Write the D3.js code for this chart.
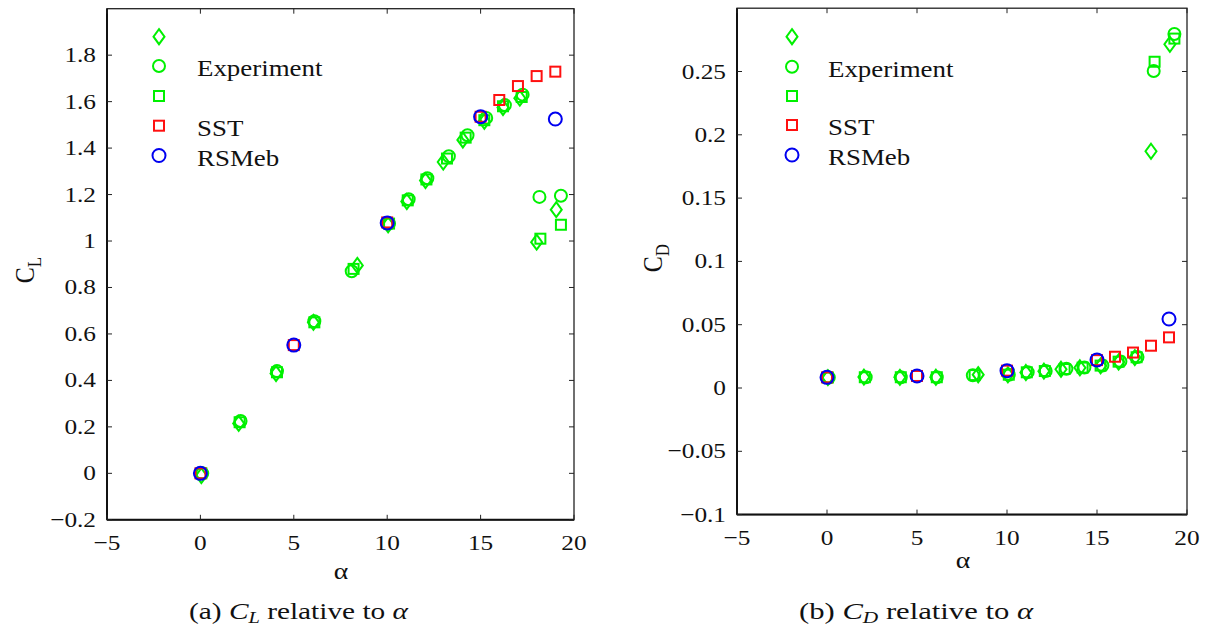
<!DOCTYPE html>
<html><head><meta charset="utf-8">
<script src="https://cdn.jsdelivr.net/npm/d3@7"></script>
<style>
html,body{margin:0;padding:0;background:#fff;}
text{font-family:"Liberation Serif","Times New Roman",serif;fill:#111;}
</style></head>
<body>
<svg id="fig" width="1207" height="630"></svg>
<script>
// ---------- data ----------
const xTicks = [-5, 0, 5, 10, 15, 20];
const clTicks = [-0.2, 0, 0.2, 0.4, 0.6, 0.8, 1, 1.2, 1.4, 1.6, 1.8];
const cdTicks = [-0.1, -0.05, 0, 0.05, 0.1, 0.15, 0.2, 0.25];
const legendLabels = ["", "Experiment", "", "SST", "RSMeb"];

const alphaExpDiamond = [0.05, 2.05, 4.05, 6.05, 8.4, 10.05, 11.05, 12.05, 13.0, 14.05, 15.2, 16.2, 17.1, 18.0, 19.05];
const clExpDiamond    = [-0.01, 0.215, 0.43, 0.65, 0.895, 1.07, 1.17, 1.26, 1.34, 1.435, 1.515, 1.575, 1.615, 0.995, 1.135];
const cdExpDiamond    = [0.0082, 0.0086, 0.0084, 0.0085, 0.0105, 0.0104, 0.0122, 0.0133, 0.0148, 0.0160, 0.0175, 0.0205, 0.0240, 0.187, 0.2715];

const alphaExpCircle  = [0.1, 2.15, 4.1, 6.1, 8.1, 10.1, 11.15, 12.15, 13.3, 14.3, 15.3, 16.3, 17.25, 18.15, 19.3];
const clExpCircle     = [0.0, 0.225, 0.44, 0.655, 0.87, 1.075, 1.18, 1.27, 1.365, 1.455, 1.53, 1.585, 1.63, 1.19, 1.195];
const cdExpCircle     = [0.0083, 0.0085, 0.0085, 0.0085, 0.0100, 0.0105, 0.0125, 0.0134, 0.0152, 0.0162, 0.0178, 0.0210, 0.0245, 0.2504, 0.2796];

const alphaExpSquare  = [0.05, 2.1, 4.1, 6.1, 8.2, 10.1, 11.1, 12.1, 13.2, 14.2, 15.2, 16.2, 17.2, 18.2, 19.3];
const clExpSquare     = [0.0, 0.22, 0.435, 0.65, 0.88, 1.075, 1.175, 1.265, 1.355, 1.445, 1.52, 1.58, 1.62, 1.01, 1.07];
const cdExpSquare     = [0.0083, 0.0085, 0.0085, 0.0085, 0.0102, 0.0105, 0.0124, 0.0134, 0.0150, 0.0161, 0.0177, 0.0208, 0.0243, 0.2577, 0.2760];

const alphaSST = [0, 5, 10, 15, 16, 17, 18, 19];
const clSST    = [0.0, 0.552, 1.08, 1.535, 1.607, 1.667, 1.71, 1.729];
const cdSST    = [0.0084, 0.0095, 0.0137, 0.022, 0.0247, 0.028, 0.0334, 0.040];

const alphaRSM = [0, 5, 10, 15, 19];
const clRSM    = [0.0, 0.552, 1.078, 1.535, 1.525];
const cdRSM    = [0.0084, 0.0095, 0.0137, 0.0222, 0.0545];

// ---------- helpers ----------
const GREEN = "#00f000", RED = "#ff1010", BLUE = "#0000f0";
const svg = d3.select("#fig");
const TXS = 1.15; // horizontal text stretch of the reference

function stext(g, x, y, str, opts) {
  opts = opts || {};
  const t = g.append("text")
    .attr("transform", `translate(${x},${y}) scale(${opts.sx || TXS},1)`)
    .attr("font-size", opts.size || 22)
    .attr("text-anchor", opts.anchor || "middle")
    .text(str);
  return t;
}
function fmt(v) {
  let s = String(+v.toFixed(3));
  if (s === "0") return "0";
  return s.replace("-", "\u2212");
}
function marker(g, type, color, x, y) {
  if (type === "circle") {
    g.append("circle").attr("cx", x).attr("cy", y).attr("r", color === BLUE ? 6.5 : 6)
      .attr("fill", "none").attr("stroke", color).attr("stroke-width", 2);
  } else if (type === "square") {
    g.append("rect").attr("x", x - 5).attr("y", y - 5).attr("width", 10).attr("height", 10)
      .attr("fill", "none").attr("stroke", color).attr("stroke-width", 2);
  } else {
    g.append("path").attr("d", `M${x},${y-7.5}L${x+5.5},${y}L${x},${y+7.5}L${x-5.5},${y}Z`)
      .attr("fill", "none").attr("stroke", color).attr("stroke-width", 2);
  }
}

function panel(cfg) {
  const g = svg.append("g");
  const x = d3.scaleLinear().domain([-5, 20]).range([cfg.x0, cfg.x1]);
  const y = d3.scaleLinear().domain(cfg.yDomain).range([cfg.y0, cfg.y1]);

  const series = [
    {type: "diamond", color: GREEN, a: alphaExpDiamond, v: cfg.vals[0]},
    {type: "circle",  color: GREEN, a: alphaExpCircle,  v: cfg.vals[1]},
    {type: "square",  color: GREEN, a: alphaExpSquare,  v: cfg.vals[2]},
    {type: "square",  color: RED,   a: alphaSST,        v: cfg.vals[3]},
    {type: "circle",  color: BLUE,  a: alphaRSM,        v: cfg.vals[4]}
  ];
  const pg = g.append("g");
  series.forEach(s => s.a.forEach((a, i) => marker(pg, s.type, s.color, x(a), y(s.v[i]))));

  // frame
  const fx0 = cfg.x0, fx1 = cfg.x1, fy0 = cfg.y0, fy1 = cfg.y1;
  g.append("rect").attr("x", fx0).attr("y", fy1).attr("width", fx1 - fx0).attr("height", fy0 - fy1)
    .attr("fill", "none").attr("stroke", "#222").attr("stroke-width", 1.3);
  g.append("line").attr("x1", fx0).attr("x2", fx1).attr("y1", fy0).attr("y2", fy0).attr("stroke", "#111").attr("stroke-width", 2);
  g.append("line").attr("x1", fx0).attr("x2", fx0).attr("y1", fy0).attr("y2", fy1).attr("stroke", "#111").attr("stroke-width", 2);

  // axes ticks (inward, all four sides)
  const TL = 5;
  xTicks.forEach(t => {
    const px = x(t);
    g.append("line").attr("x1", px).attr("x2", px).attr("y1", fy0).attr("y2", fy0 - TL).attr("stroke", "#222");
    g.append("line").attr("x1", px).attr("x2", px).attr("y1", fy1).attr("y2", fy1 + TL).attr("stroke", "#222");
    stext(g, px, cfg.xLabelY, fmt(t), {size: 22});
  });
  cfg.yTicks.forEach(t => {
    const py = y(t);
    g.append("line").attr("x1", fx0).attr("x2", fx0 + TL).attr("y1", py).attr("y2", py).attr("stroke", "#222");
    g.append("line").attr("x1", fx1).attr("x2", fx1 - TL).attr("y1", py).attr("y2", py).attr("stroke", "#222");
    stext(g, fx0 - 11, py + 7, fmt(t), {size: 22, anchor: "end"});
  });

  // axis labels
  stext(g, cfg.alphaX, cfg.alphaY, "\u03b1", {size: 24});
  const yl = g.append("text")
    .attr("transform", `translate(${cfg.ylabX},${cfg.ylabY}) rotate(-90) scale(1,${TXS})`)
    .attr("font-size", 24).attr("text-anchor", "middle");
  yl.append("tspan").text("C");
  yl.append("tspan").attr("font-size", 17).attr("dy", 6).text(cfg.sub);

  // legend
  const lt = ["diamond", "circle", "square", "square", "circle"];
  const lc = [GREEN, GREEN, GREEN, RED, BLUE];
  cfg.legY.forEach((ly, i) => {
    marker(g, lt[i], lc[i], cfg.legX, ly);
    if (legendLabels[i]) stext(g, cfg.legTextX, ly + 10, legendLabels[i], {size: 23, anchor: "start", sx: 1.17});
  });

  // caption
  const cap = g.append("text").attr("x", cfg.capX).attr("y", 619).attr("font-size", 23)
    .attr("textLength", cfg.capW).attr("lengthAdjust", "spacingAndGlyphs");
  cap.append("tspan").text(cfg.capPrefix + " ");
  cap.append("tspan").attr("font-style", "italic").text("C");
  cap.append("tspan").attr("font-style", "italic").attr("font-size", 16).attr("dy", 4).text(cfg.sub);
  cap.append("tspan").attr("dy", -4).text(" relative to ");
  cap.append("tspan").attr("font-style", "italic").text("\u03b1");
}

panel({
  x0: 107, x1: 574, y0: 519.8, y1: 8.7, yDomain: [-0.2, 2.0], yTicks: clTicks,
  vals: [clExpDiamond, clExpCircle, clExpSquare, clSST, clRSM],
  xLabelY: 550, alphaX: 341, alphaY: 579, ylabX: 34, ylabY: 270, sub: "L",
  legX: 159, legY: [36.7, 66, 96, 125.7, 155.5], legTextX: 197,
  capX: 189, capW: 219, capPrefix: "(a)"
});
panel({
  x0: 737, x1: 1187, y0: 514.6, y1: 8.2, yDomain: [-0.1, 0.3], yTicks: cdTicks,
  vals: [cdExpDiamond, cdExpCircle, cdExpSquare, cdSST, cdRSM],
  xLabelY: 545, alphaX: 963, alphaY: 568, ylabX: 662, ylabY: 258, sub: "D",
  legX: 792, legY: [36.7, 66.7, 96, 125, 155], legTextX: 828,
  capX: 799, capW: 234, capPrefix: "(b)"
});
</script>
</body></html>
